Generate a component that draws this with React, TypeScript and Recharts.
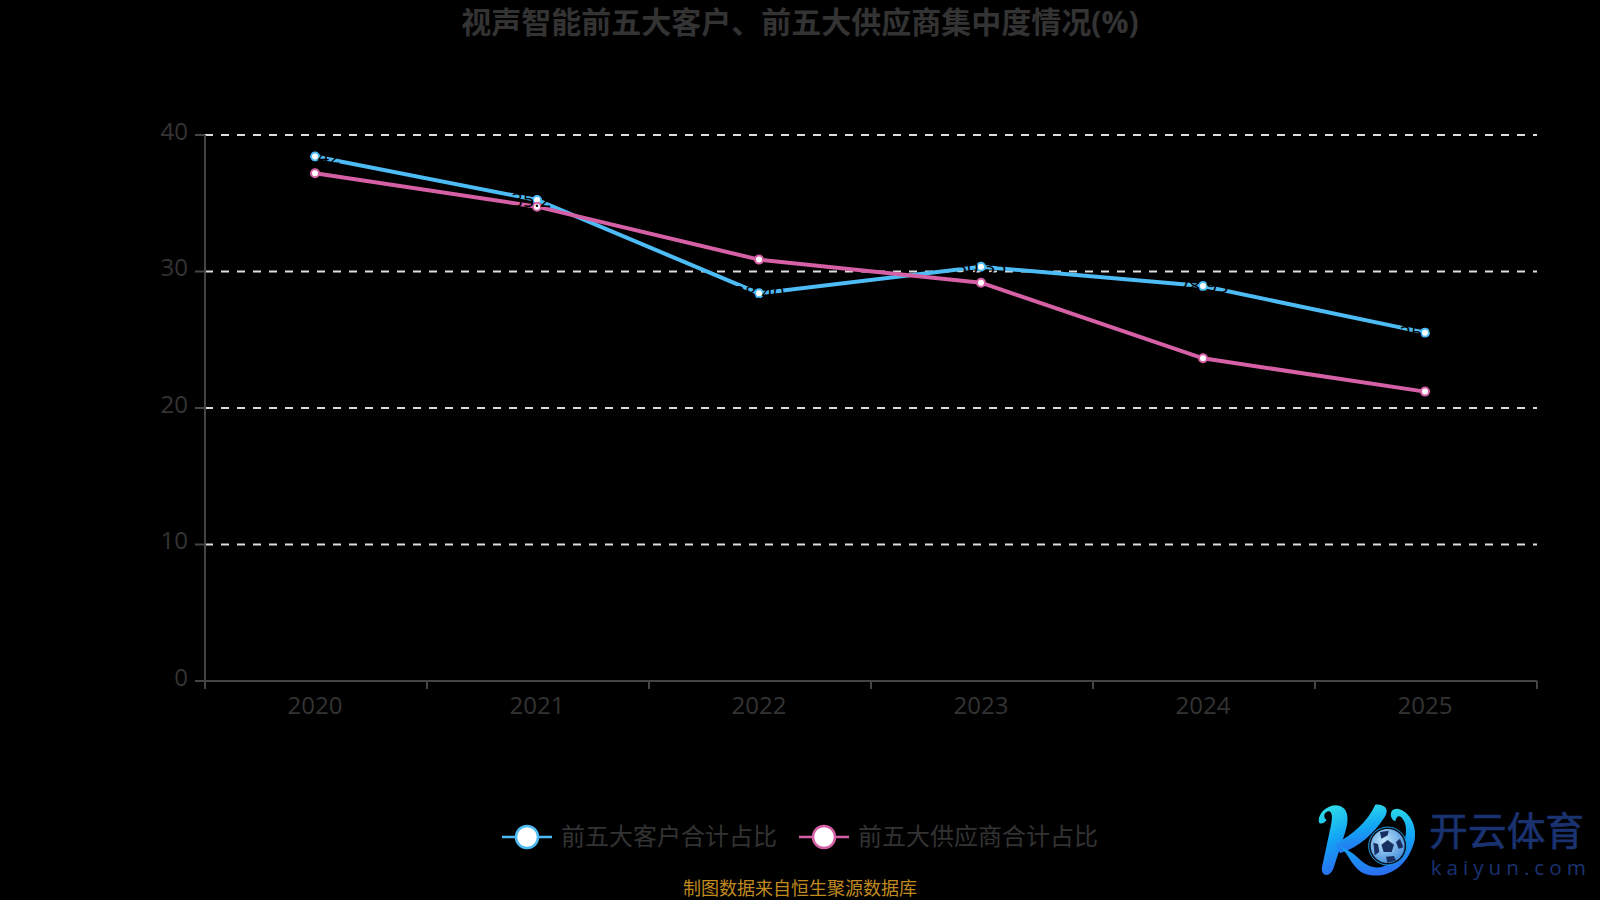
import { LineChart, Line, XAxis, YAxis, CartesianGrid, Legend, LabelList } from "recharts";

const YEARS = ["2020", "2021", "2022", "2023", "2024", "2025"];
const CUSTOMER_SHARE = [38.42, 35.24, 28.4, 30.35, 28.93, 25.52];
const SUPPLIER_SHARE = [37.2, 34.75, 30.87, 29.18, 23.64, 21.2];
const Y_TICKS = [0, 10, 20, 30, 40];
const GRID_VALUES = [10, 20, 30, 40];

const TITLE = "视声智能前五大客户、前五大供应商集中度情况(%)";
const SOURCE = "制图数据来自恒生聚源数据库";
const CUSTOMER_NAME = "前五大客户合计占比";
const SUPPLIER_NAME = "前五大供应商合计占比";

const FONT = '"Open Sans", "Noto Sans CJK SC", sans-serif';
const BLUE = "#4DBBF4";
const PINK = "#D660A6";
const MUTED = "#333333";
const AXIS = "#444444";
const BAND = 222;

const chartData = YEARS.map((year, i) => ({
  year,
  customer: CUSTOMER_SHARE[i],
  supplier: SUPPLIER_SHARE[i],
}));

// ticks sit on the band edges, labels on the band centres
function YearTick({ x, index, payload }: any) {
  const axisY = 681;
  const edge = x - BAND / 2 + 1;
  return (
    <g>
      <line x1={edge} x2={edge} y1={axisY} y2={axisY + 8} stroke={AXIS} strokeWidth={2} />
      {index === YEARS.length - 1 && (
        <line x1={edge + BAND} x2={edge + BAND} y1={axisY} y2={axisY + 8} stroke={AXIS} strokeWidth={2} />
      )}
      <text x={x} y={axisY + 33} textAnchor="middle" fontSize={24} fontFamily={FONT} fill={MUTED}>
        {payload.value}
      </text>
    </g>
  );
}

function LegendMark({ color }: { color: string }) {
  return (
    <svg width={50} height={28}>
      <line x1={0} x2={50} y1={14} y2={14} stroke={color} strokeWidth={2.5} />
      <circle cx={25} cy={14} r={11} fill="#fff" stroke={color} strokeWidth={2.5} />
    </svg>
  );
}

function ChartLegend({ payload }: any) {
  const items = (payload ?? []).filter((item: any) => item.type !== "none");
  return (
    <div style={{ display: "flex", justifyContent: "center", gap: 22, fontFamily: FONT, fontSize: 24, color: MUTED }}>
      {items.map((item: any) => (
        <div key={item.value} style={{ display: "flex", alignItems: "center", gap: 9, height: 34 }}>
          <LegendMark color={item.color} />
          <span style={{ position: "relative", top: -3 }}>{item.value}</span>
        </div>
      ))}
    </div>
  );
}

function Logo() {
  return (
    <svg
      width={310}
      height={100}
      viewBox="0 0 930 300"
      style={{ position: "absolute", left: 1290, top: 790 }}
    >
      <defs>
        <linearGradient id="logoFill" x1="0.3" y1="0" x2="0.5" y2="1">
          <stop offset="0" stopColor="#2FE0E8" />
          <stop offset="0.5" stopColor="#12A6F5" />
          <stop offset="1" stopColor="#2B6CF0" />
        </linearGradient>
        <radialGradient id="ballFill" cx="0.4" cy="0.35" r="0.75">
          <stop offset="0" stopColor="#BFE6FA" />
          <stop offset="1" stopColor="#3A86D8" />
        </radialGradient>
      </defs>
      <path
        fill="url(#logoFill)"
        d="M86 92 C86 62 125 38 150 48 C178 58 176 95 166 125 L130 236 C120 262 92 262 96 232 L122 110 C128 84 128 62 114 64 C100 68 100 84 110 90 C100 104 86 104 86 92 Z"
      />
      <path
        fill="url(#logoFill)"
        d="M136 160 C186 136 232 96 256 44 C284 42 298 58 286 78 C254 130 206 172 150 190 Z"
      />
      <path
        fill="url(#logoFill)"
        d="M150 170 C178 192 186 236 226 252 C292 272 356 228 374 150 C382 104 356 62 322 56 C298 54 296 86 316 94 C318 80 326 74 334 82 C352 100 352 132 338 170 C318 222 270 244 234 226 C204 210 196 186 150 170 Z"
      />
      <circle cx={293} cy={168} r={57} fill="#061424" stroke="#1B9BE0" strokeWidth={3} />
      <circle cx={293} cy={168} r={51} fill="url(#ballFill)" />
      <g fill="#17305F">
        <polygon points="293,150 312,164 305,186 281,186 274,164" />
        <polygon points="270,126 296,122 293,136 274,146" />
        <polygon points="330,146 340,172 326,176 318,156" />
        <polygon points="250,158 264,162 268,186 254,196" />
        <polygon points="288,200 312,198 318,212 292,218" />
      </g>
      <text x={418} y={164} fontSize={116} fontFamily={FONT} fill="#1A3270" stroke="#1A3270" strokeWidth={2}>
        开云体育
      </text>
      <text x={422} y={255} fontSize={62} letterSpacing={15} fontFamily={FONT} fill="#1A3270">
        kaiyun.com
      </text>
    </svg>
  );
}

export default function App() {
  return (
    <div style={{ position: "absolute", left: 0, top: 0, width: 1600, height: 900, background: "#000", overflow: "hidden" }}>
      <LineChart
        width={1600}
        height={900}
        data={chartData}
        margin={{ top: 135, right: 63, bottom: 125, left: 0 }}
      >
        <CartesianGrid
          horizontal
          vertical={false}
          horizontalValues={GRID_VALUES}
          stroke="#DDDDDD"
          strokeWidth={2}
          strokeDasharray="8 8"
        />
        <XAxis
          dataKey="year"
          height={60}
          padding={{ left: BAND / 2 - 1, right: BAND / 2 + 1 }}
          tick={<YearTick />}
          tickLine={false}
          axisLine={{ stroke: AXIS, strokeWidth: 2 }}
          interval={0}
        />
        <YAxis
          width={205}
          domain={[0, 40]}
          ticks={Y_TICKS}
          tickSize={10}
          tickMargin={7}
          tick={{ fontSize: 24, fontFamily: FONT, fill: MUTED, dy: -4 }}
          tickLine={{ stroke: AXIS, strokeWidth: 2 }}
          axisLine={{ stroke: AXIS, strokeWidth: 2 }}
        />
        <Legend
          content={<ChartLegend />}
          itemSorter={null}
          wrapperStyle={{ position: "absolute", left: 0, top: 820, width: 1600 }}
        />
        <Line
          dataKey="customer"
          name={CUSTOMER_NAME}
          stroke={BLUE}
          strokeWidth={4}
          dot={{ r: 4, fill: "#fff", stroke: BLUE, strokeWidth: 2 }}
          isAnimationActive={false}
        />
        <Line
          dataKey="supplier"
          name={SUPPLIER_NAME}
          stroke={PINK}
          strokeWidth={4}
          dot={{ r: 4, fill: "#fff", stroke: PINK, strokeWidth: 2 }}
          isAnimationActive={false}
        />
        {/* black value labels only show where they cross the coloured lines */}
        <Line
          dataKey="customer"
          stroke="none"
          dot={false}
          legendType="none"
          isAnimationActive={false}
        >
          <LabelList
            dataKey="customer"
            position="center"
            fontSize={20}
            fontFamily={FONT}
            fill="#000"
            formatter={(v: number) => v.toFixed(2)}
          />
        </Line>
      </LineChart>
      <div
        style={{
          position: "absolute",
          left: 0,
          top: -2,
          width: 1600,
          textAlign: "center",
          fontFamily: FONT,
          fontSize: 30,
          fontWeight: 700,
          color: MUTED,
        }}
      >
        {TITLE}
      </div>
      <div
        style={{
          position: "absolute",
          left: 0,
          top: 877,
          width: 1600,
          height: 23,
          lineHeight: "23px",
          textAlign: "center",
          fontFamily: FONT,
          fontSize: 18,
          color: "#C08A1E",
        }}
      >
        {SOURCE}
      </div>
      <Logo />
    </div>
  );
}
